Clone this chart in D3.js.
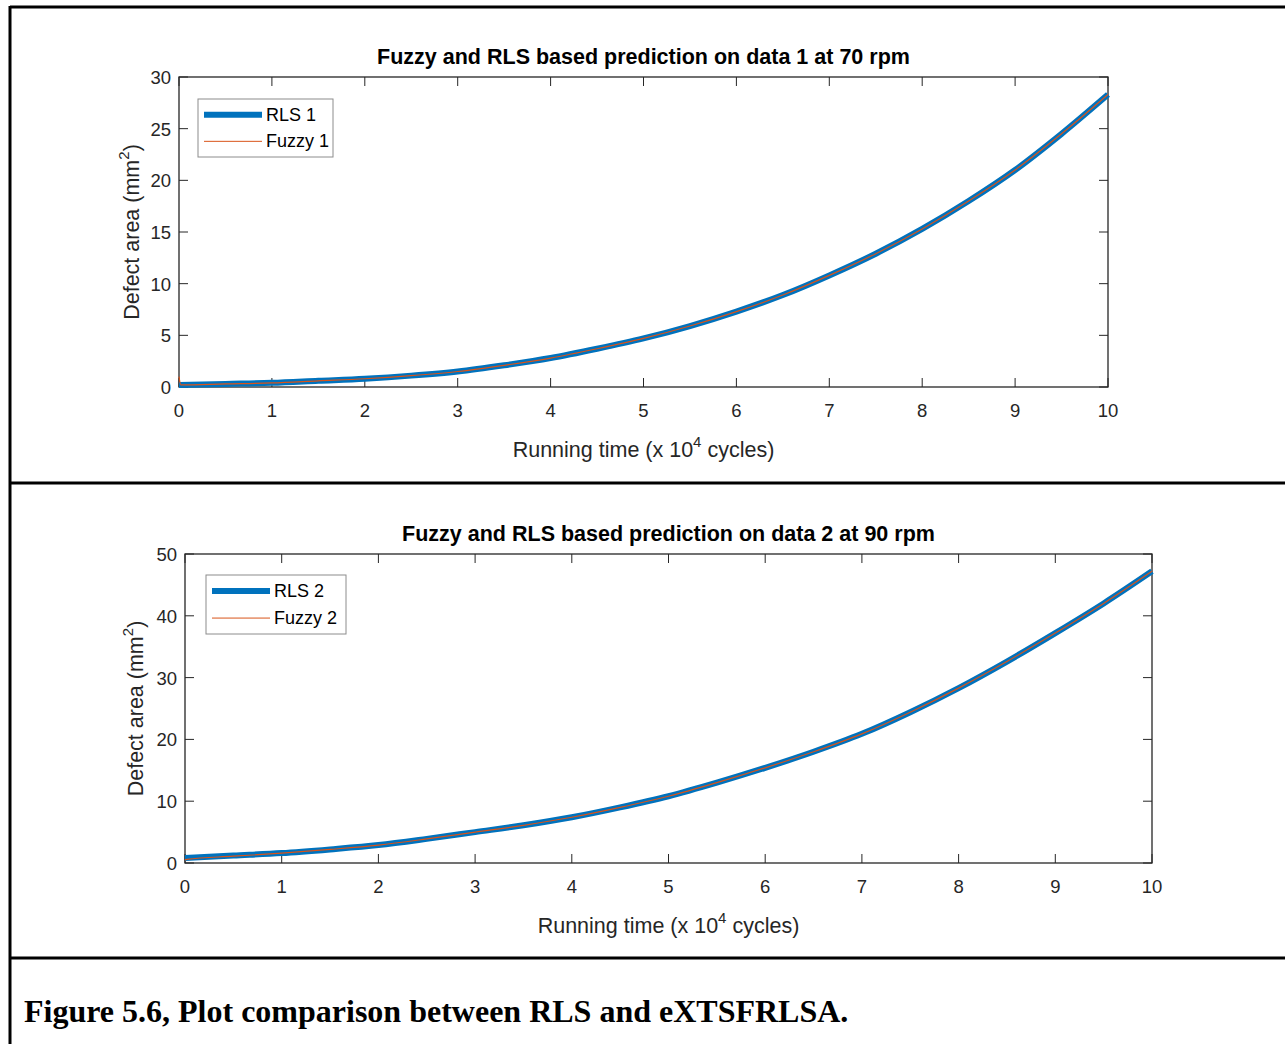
<!DOCTYPE html>
<html>
<head>
<meta charset="utf-8">
<script src="https://cdn.jsdelivr.net/npm/d3@7"></script>
<style>
  html, body { margin: 0; padding: 0; background: #fff; }
  svg { display: block; }
</style>
</head>
<body>
<svg id="fig" width="1285" height="1044"></svg>
<script>
// Running time samples (x 10^4 cycles)
const runTime = [0, 0.5, 1, 1.5, 2, 2.5, 3, 3.5, 4, 4.5, 5, 5.5, 6, 6.5, 7, 7.5, 8, 8.5, 9, 9.5, 10];
// The fuzzy model starts with a short transient right at t = 0
const fuzzyTime = [0, 0.02, 0.5, 1, 1.5, 2, 2.5, 3, 3.5, 4, 4.5, 5, 5.5, 6, 6.5, 7, 7.5, 8, 8.5, 9, 9.5, 10];

// Data 1 at 70 rpm: defect area (mm^2)
const rls1   = [0.2, 0.3, 0.4, 0.6, 0.8, 1.1, 1.5, 2.1, 2.8, 3.7, 4.7, 5.9, 7.3, 8.9, 10.8, 12.9, 15.3, 18.0, 21.0, 24.5, 28.3];
const fuzzy1 = [1.0, 0.2, 0.3, 0.4, 0.6, 0.8, 1.1, 1.5, 2.1, 2.8, 3.7, 4.7, 5.9, 7.3, 8.9, 10.8, 12.9, 15.3, 18.0, 21.0, 24.5, 28.3];

// Data 2 at 90 rpm: defect area (mm^2)
const rls2   = [0.8, 1.2, 1.6, 2.2, 2.9, 3.9, 5.0, 6.1, 7.4, 9.0, 10.8, 13.0, 15.4, 18.0, 20.9, 24.4, 28.3, 32.6, 37.2, 42.0, 47.2];
const fuzzy2 = [0.5, 0.6, 1.1, 1.6, 2.2, 2.9, 3.9, 5.0, 6.1, 7.4, 9.0, 10.8, 13.0, 15.4, 18.0, 20.9, 24.4, 28.3, 32.6, 37.2, 42.0, 47.2];

const xTicks  = [0, 1, 2, 3, 4, 5, 6, 7, 8, 9, 10];
const yTicks1 = [0, 5, 10, 15, 20, 25, 30];
const yTicks2 = [0, 10, 20, 30, 40, 50];

const titles  = ["Fuzzy and RLS based prediction on data 1 at 70 rpm",
                 "Fuzzy and RLS based prediction on data 2 at 90 rpm"];
const legend1 = ["RLS 1", "Fuzzy 1"];
const legend2 = ["RLS 2", "Fuzzy 2"];
const caption = "Figure 5.6, Plot comparison between RLS and eXTSFRLSA.";

const BLUE = "#0072BD", ORANGE = "#D95319", AX = "#262626";
const FONT = "'Liberation Sans', Arial, sans-serif";

const svg = d3.select("#fig");

// Outer table frame
const frame = svg.append("g").attr("stroke", "#000").attr("stroke-width", 3).attr("fill", "none");
frame.append("line").attr("x1", 10).attr("x2", 1285).attr("y1", 7).attr("y2", 7);
frame.append("line").attr("x1", 10).attr("x2", 1285).attr("y1", 483).attr("y2", 483);
frame.append("line").attr("x1", 10).attr("x2", 1285).attr("y1", 958).attr("y2", 958);
frame.append("line").attr("x1", 10).attr("x2", 10).attr("y1", 6).attr("y2", 1044);

function panel(cfg) {
  const { left, right, top, bottom, yMax, yTicks, rls, fuzzy, title, labels, legendBox } = cfg;
  const x = d3.scaleLinear().domain([0, 10]).range([left, right]);
  const y = d3.scaleLinear().domain([0, yMax]).range([bottom, top]);
  const g = svg.append("g");

  // Box
  g.append("rect").attr("x", left).attr("y", top).attr("width", right - left).attr("height", bottom - top)
    .attr("fill", "none").attr("stroke", AX).attr("stroke-width", 1.3);

  // Tick marks inside the box on all four sides
  const tickLen = 9;
  const ticks = g.append("g").attr("stroke", AX).attr("stroke-width", 1);
  xTicks.forEach(t => {
    ticks.append("line").attr("x1", x(t)).attr("x2", x(t)).attr("y1", bottom).attr("y2", bottom - tickLen);
    ticks.append("line").attr("x1", x(t)).attr("x2", x(t)).attr("y1", top).attr("y2", top + tickLen);
  });
  yTicks.forEach(t => {
    ticks.append("line").attr("x1", left).attr("x2", left + tickLen).attr("y1", y(t)).attr("y2", y(t));
    ticks.append("line").attr("x1", right).attr("x2", right - tickLen).attr("y1", y(t)).attr("y2", y(t));
  });

  // Series
  const line = (xs, vals) => d3.line()
    .x((d, i) => x(xs[i]))
    .y(d => y(d))
    .curve(d3.curveMonotoneX)(vals);
  g.append("path").attr("d", line(runTime, rls)).attr("fill", "none")
    .attr("stroke", BLUE).attr("stroke-width", 6);
  g.append("path").attr("d", line(fuzzyTime, fuzzy)).attr("fill", "none")
    .attr("stroke", ORANGE).attr("stroke-width", 1.2);

  // Tick labels
  const tl = g.append("g").attr("font-family", FONT).attr("font-size", 18.5).attr("fill", AX);
  xTicks.forEach(t => {
    tl.append("text").attr("x", x(t)).attr("y", bottom + 30).attr("text-anchor", "middle").text(t);
  });
  yTicks.forEach(t => {
    tl.append("text").attr("x", left - 8).attr("y", y(t) + 7).attr("text-anchor", "end").text(t);
  });

  // Title
  g.append("text").attr("x", (left + right) / 2).attr("y", top - 13)
    .attr("text-anchor", "middle").attr("font-family", FONT).attr("font-weight", "bold")
    .attr("font-size", 21.5).attr("fill", "#000").text(title);

  // X label with superscript
  const xl = g.append("text").attr("x", (left + right) / 2).attr("y", bottom + 70)
    .attr("text-anchor", "middle").attr("font-family", FONT).attr("font-size", 21.5).attr("fill", AX);
  xl.append("tspan").text("Running time (x 10");
  xl.append("tspan").attr("dy", -10).attr("font-size", 15).text("4");
  xl.append("tspan").attr("dy", 10).text(" cycles)");

  // Y label, rotated, with superscript
  const yl = g.append("text")
    .attr("transform", `translate(${cfg.yLabelX},${(top + bottom) / 2}) rotate(-90)`)
    .attr("text-anchor", "middle").attr("font-family", FONT).attr("font-size", 21.5).attr("fill", AX);
  yl.append("tspan").text("Defect area (mm");
  yl.append("tspan").attr("dy", -10).attr("font-size", 15).text("2");
  yl.append("tspan").attr("dy", 10).text(")");

  // Legend
  const [lx, ly, lw, lh] = legendBox;
  const lg = g.append("g");
  lg.append("rect").attr("x", lx).attr("y", ly).attr("width", lw).attr("height", lh)
    .attr("fill", "#fff").attr("stroke", "#8c8c8c").attr("stroke-width", 1);
  const rowY = [ly + lh * 0.27, ly + lh * 0.73];
  lg.append("line").attr("x1", lx + 6).attr("x2", lx + 64).attr("y1", rowY[0]).attr("y2", rowY[0])
    .attr("stroke", BLUE).attr("stroke-width", 6);
  lg.append("line").attr("x1", lx + 6).attr("x2", lx + 64).attr("y1", rowY[1]).attr("y2", rowY[1])
    .attr("stroke", ORANGE).attr("stroke-width", 1);
  labels.forEach((s, i) => {
    lg.append("text").attr("x", lx + 68).attr("y", rowY[i] + 6)
      .attr("font-family", FONT).attr("font-size", 18).attr("fill", "#000").text(s);
  });
}

panel({ left: 179, right: 1108, top: 77, bottom: 387, yMax: 30, yTicks: yTicks1,
        rls: rls1, fuzzy: fuzzy1, title: titles[0], labels: legend1,
        legendBox: [198, 99, 135, 58], yLabelX: 139 });
panel({ left: 185, right: 1152, top: 554, bottom: 863, yMax: 50, yTicks: yTicks2,
        rls: rls2, fuzzy: fuzzy2, title: titles[1], labels: legend2,
        legendBox: [206, 575, 140, 59], yLabelX: 143 });

// Caption
svg.append("text").attr("x", 24).attr("y", 1022)
  .attr("font-family", "'Liberation Serif', 'Times New Roman', serif").attr("font-weight", "bold")
  .attr("font-size", 32).attr("fill", "#000").text(caption);
</script>
</body>
</html>
